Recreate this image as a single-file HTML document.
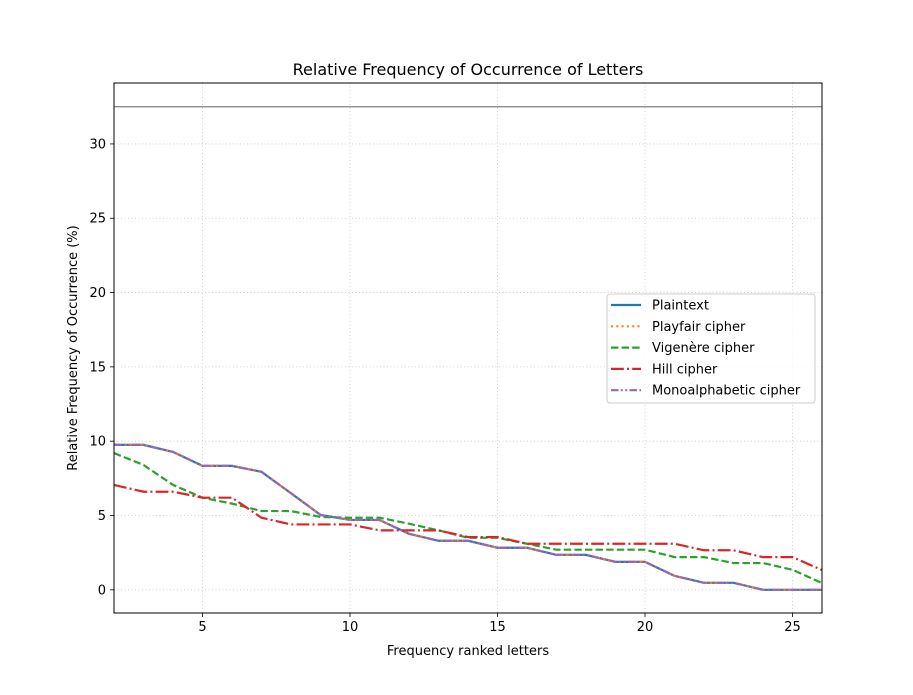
<!DOCTYPE html>
<html><head><meta charset="utf-8"><style>
body{margin:0;background:#fff}
svg{font-family:"DejaVu Sans","Liberation Sans",sans-serif}
</style></head><body>
<svg id="chart" width="913" height="690" viewBox="0 0 913 690"></svg>
<script>
const xValues=[2,3,4,5,6,7,8,9,10,11,12,13,14,15,16,17,18,19,20,21,22,23,24,25,26];
const plaintext=[9.75,9.75,9.28,8.34,8.34,7.94,6.5,5.04,4.7,4.7,3.77,3.3,3.3,2.83,2.83,2.35,2.35,1.88,1.88,0.94,0.47,0.47,0,0,0];
const playfair=plaintext.slice();
const monoalpha=plaintext.slice();
const vigenere=[9.2,8.4,7.06,6.2,5.8,5.3,5.3,4.9,4.85,4.85,4.45,4.0,3.5,3.5,3.1,2.7,2.7,2.7,2.7,2.2,2.2,1.8,1.8,1.35,0.45];
const hill=[7.06,6.6,6.6,6.2,6.2,4.85,4.4,4.4,4.4,4.0,4.0,4.0,3.55,3.55,3.1,3.1,3.1,3.1,3.1,3.1,2.66,2.66,2.2,2.2,1.33];
const refLine=32.5;
const xTicks=[5,10,15,20,25];
const yTicks=[0,5,10,15,20,25,30];
const NS="http://www.w3.org/2000/svg";
const svg=document.getElementById('chart');
const L=114,R=822,T=83,B=613;
const xMin=2,xMax=26,yMin=-1.56,yMax=34.1;
const sx=v=>L+(v-xMin)/(xMax-xMin)*(R-L);
const sy=v=>B-(v-yMin)/(yMax-yMin)*(B-T);
function mk(tag,attrs){const e=document.createElementNS(NS,tag);for(const k in attrs)e.setAttribute(k,attrs[k]);svg.appendChild(e);return e;}
// grid
xTicks.forEach(t=>{const g=mk('line',{x1:sx(t),x2:sx(t),y1:T,y2:B,stroke:'#b0b0b0','stroke-width':0.8,'stroke-dasharray':'1,2.5',opacity:0.7});


const tk=mk('line',{x1:sx(t),x2:sx(t),y1:B,y2:B+4,stroke:'#000','stroke-width':0.8});


const tx=mk('text',{x:sx(t),y:B+18,'text-anchor':'middle','font-size':13});tx.textContent=t;

});
yTicks.forEach(t=>{const g=mk('line',{x1:L,x2:R,y1:sy(t),y2:sy(t),stroke:'#b0b0b0','stroke-width':0.8,'stroke-dasharray':'1,2.5',opacity:0.7});


const tk=mk('line',{x1:L-4,x2:L,y1:sy(t),y2:sy(t),stroke:'#000','stroke-width':0.8});


const tx=mk('text',{x:L-8,y:sy(t)+4.5,'text-anchor':'end','font-size':13});tx.textContent=t;

});
const ref=mk('line',{x1:L,x2:R,y1:sy(refLine),y2:sy(refLine),stroke:'#808080','stroke-width':1.2});


const series=[
 {name:'plaintext-line',d:plaintext,c:'#1f77b4',dash:''},
 {name:'playfair-line',d:playfair,c:'#ff7f0e',dash:'2,3.3'},
 {name:'vigenere-line',d:vigenere,c:'#2ca02c',dash:'7.4,3.2'},
 {name:'hill-line',d:hill,c:'#d62728',dash:'12.8,3.2,2,3.2'},
 {name:'monoalphabetic-line',d:monoalpha,c:'#9467bd',dash:'7.4,2.4,2,2.4,2,2.4'}];
series.forEach(s=>{const p=mk('polyline',{points:s.d.map((v,i)=>sx(xValues[i])+','+sy(v)).join(' '),fill:'none',stroke:s.c,'stroke-width':2.2,'stroke-dasharray':s.dash});

});
const fr=mk('rect',{x:L,y:T,width:R-L,height:B-T,fill:'none',stroke:'#000','stroke-width':1});


const title=mk('text',{x:(L+R)/2,y:75,'text-anchor':'middle','font-size':16});title.textContent='Relative Frequency of Occurrence of Letters';


const xt=mk('text',{x:(L+R)/2,y:655,'text-anchor':'middle','font-size':13});xt.textContent='Frequency ranked letters';


const yt=mk('text',{x:0,y:0,'text-anchor':'middle','font-size':13,transform:'translate(77,348) rotate(-90)'});yt.textContent='Relative Frequency of Occurrence (%)';


const lg=mk('rect',{x:607,y:294,width:208,height:109,rx:3,fill:'#fff','fill-opacity':0.8,stroke:'#ccc','stroke-width':1});


const labels=['Plaintext','Playfair cipher','Vigenère cipher','Hill cipher','Monoalphabetic cipher'];
series.forEach((s,i)=>{const y=305+i*21.3;
const ln=mk('line',{x1:611,x2:641,y1:y,y2:y,stroke:s.c,'stroke-width':2.2,'stroke-dasharray':s.dash});


const t=mk('text',{x:652,y:y+4.5,'font-size':13});t.textContent=labels[i];

});
</script>
</body></html>
